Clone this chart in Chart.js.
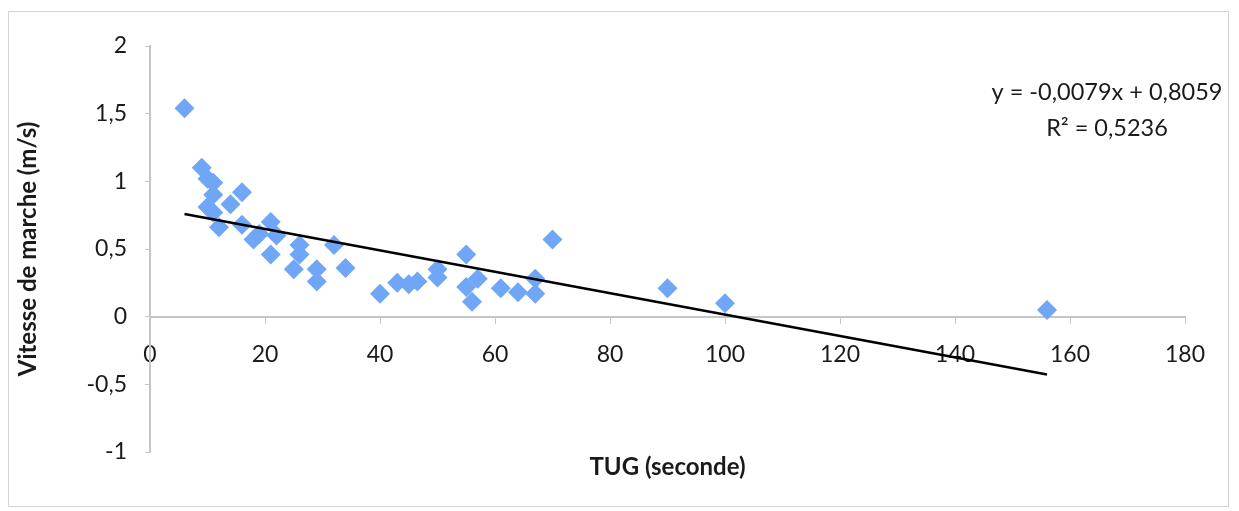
<!DOCTYPE html>
<html>
<head>
<meta charset="utf-8">
<script src="https://cdn.jsdelivr.net/npm/chart.js@4/dist/chart.umd.min.js"></script>
<style>
  html, body { margin: 0; padding: 0; background: #fff; }
  #wrap { position: relative; width: 1239px; height: 511px; }
  #cadre { position: absolute; left: 8px; top: 11px; width: 1221px; height: 496px; border: 1px solid #d4d4d4; box-sizing: border-box; pointer-events: none; }
  canvas { position: absolute; left: 0; top: 0; }
</style>
</head>
<body>
<div id="wrap">
  <canvas id="graficoTUG" width="1239" height="511"></canvas>
  <div id="cadre"></div>
</div>
<script>
// Valeurs : TUG (s) et vitesse de marche (m/s)
const tugSecondes = [6, 9, 10, 11, 11, 10, 11, 12, 14, 16, 16, 18, 19, 21, 22, 21, 26, 26, 25, 29, 29, 32, 34,
  40, 43, 45, 46.5, 50, 50, 55, 55, 57, 56, 61, 64, 67, 67, 70, 90, 100, 156];
const vitesseMarche = [1.54, 1.10, 1.02, 0.99, 0.90, 0.81, 0.77, 0.66, 0.83, 0.92, 0.68, 0.57, 0.61, 0.70, 0.60, 0.46, 0.53, 0.46, 0.35, 0.35, 0.26, 0.53, 0.36,
  0.17, 0.25, 0.24, 0.26, 0.35, 0.29, 0.46, 0.22, 0.28, 0.11, 0.21, 0.18, 0.28, 0.17, 0.57, 0.21, 0.10, 0.05];

// Droite de tendance (extrémités)
const tendanceX = [6, 156];
const tendanceY = [0.759, -0.427];

const ticksX = [0, 20, 40, 60, 80, 100, 120, 140, 160, 180];
const ticksY = [-1, -0.5, 0, 0.5, 1, 1.5, 2];
const equation = ['y = -0,0079x + 0,8059', 'R\u00B2 = 0,5236'];

const police = 'Lato, "Open Sans", sans-serif';

const pluginEquation = {
  id: 'equation',
  afterDraw(chart) {
    const ctx = chart.ctx;
    const area = chart.chartArea;
    ctx.save();
    ctx.font = '23.5px ' + police;
    ctx.fillStyle = '#1a1a1a';
    ctx.textAlign = 'center';
    ctx.textBaseline = 'middle';
    const cx = area.right - 78;
    ctx.fillText(equation[0], cx, area.top + 46);
    ctx.fillText(equation[1], cx, area.top + 82);
    ctx.restore();
  }
};

document.addEventListener('DOMContentLoaded', function() {
  const ctx = document.getElementById('graficoTUG').getContext('2d');
  new Chart(ctx, {
    type: 'scatter',
    data: {
      datasets: [
        {
          label: 'Vitesse',
          data: tugSecondes.map((x, i) => ({ x: x, y: vitesseMarche[i] })),
          pointStyle: 'rectRot',
          pointRadius: 10,
          pointHoverRadius: 10,
          backgroundColor: '#70a6f6',
          borderColor: '#70a6f6',
          borderWidth: 0,
          order: 2
        },
        {
          label: 'Tendance',
          type: 'line',
          data: tendanceX.map((x, i) => ({ x: x, y: tendanceY[i] })),
          borderColor: '#000',
          borderWidth: 2.5,
          pointRadius: 0,
          fill: false,
          order: 1
        }
      ]
    },
    options: {
      responsive: false,
      animation: false,
      layout: { padding: { left: 10, right: 54, top: 46, bottom: 25 } },
      plugins: {
        legend: { display: false },
        tooltip: { enabled: false }
      },
      scales: {
        x: {
          type: 'linear',
          position: { y: 0 },
          min: 0,
          max: 180,
          afterBuildTicks: (axis) => { axis.ticks = ticksX.map(v => ({ value: v })); },
          grid: { display: true, drawOnChartArea: false, tickLength: 6, color: '#c6c6c6' },
          border: { display: true, color: '#c6c6c6', width: 2 },
          ticks: {
            padding: 18,
            color: '#1a1a1a',
            font: { family: police, size: 23 }
          }
        },
        x2: {
          type: 'linear',
          position: 'bottom',
          min: 0,
          max: 180,
          afterFit: (axis) => { axis.height = 34; },
          grid: { display: false },
          border: { display: false },
          ticks: { display: false },
          title: {
            display: true,
            text: 'TUG (seconde)',
            color: '#1a1a1a',
            font: { family: police, size: 24, weight: 'bold' },
            padding: { top: 4, bottom: 4 }
          }
        },
        y: {
          type: 'linear',
          position: 'left',
          min: -1,
          max: 2,
          afterBuildTicks: (axis) => { axis.ticks = ticksY.map(v => ({ value: v })); },
          afterFit: (axis) => { axis.width = 140; },
          grid: { display: true, drawOnChartArea: false, tickLength: 5, color: '#c6c6c6' },
          border: { display: true, color: '#c6c6c6', width: 2 },
          ticks: {
            padding: 18,
            color: '#1a1a1a',
            font: { family: police, size: 23 },
            callback: (v) => String(v).replace('.', ',')
          },
          title: {
            display: true,
            text: 'Vitesse de marche (m/s)',
            color: '#1a1a1a',
            font: { family: police, size: 24, weight: 'bold' },
            padding: { top: 4, bottom: 4 }
          }
        }
      }
    },
    plugins: [pluginEquation]
  });
});
</script>
</body>
</html>
